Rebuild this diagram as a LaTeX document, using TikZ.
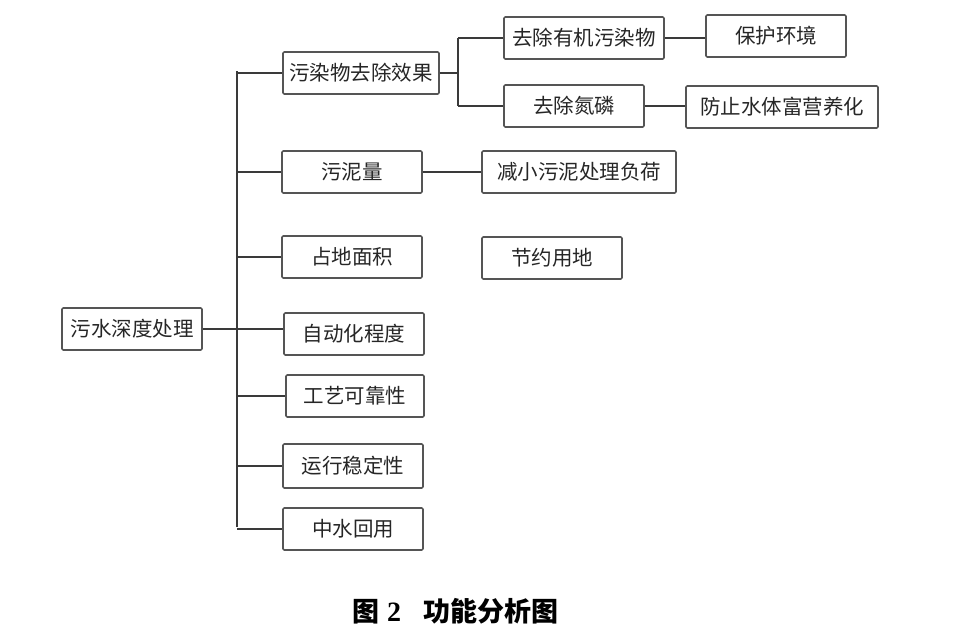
\documentclass[tikz,border=0pt]{standalone}
\usepackage{fontspec}
\newfontfamily\cjk{Noto Sans CJK SC}
\newfontfamily\capserif{Liberation Serif}
\begin{document}
\begin{tikzpicture}[x=1pt,y=-1pt,
  box/.style={draw=boxgray,line width=1.6pt,rounded corners=1.2pt,fill=white,
    inner sep=0pt,align=center,font=\cjk\fontsize{20.5}{22}\selectfont,text=txt},
  link/.style={draw=linegray,line width=1.8pt}]
\definecolor{boxgray}{HTML}{555555}
\definecolor{linegray}{HTML}{3A3A3A}
\definecolor{txt}{HTML}{262626}
\useasboundingbox (0,0) rectangle (961,638);
% nodes
\node[box,minimum width=140pt,minimum height=42pt] (root) at (132,329) {污水深度处理};
\node[box,minimum width=156pt,minimum height=42pt] (p1) at (361,73) {污染物去除效果};
\node[box,minimum width=140pt,minimum height=42pt] (p2) at (352,172) {污泥量};
\node[box,minimum width=140pt,minimum height=42pt] (p3) at (352,257) {占地面积};
\node[box,minimum width=140pt,minimum height=42pt] (p4) at (354,334) {自动化程度};
\node[box,minimum width=138pt,minimum height=42pt] (p5) at (355,396) {工艺可靠性};
\node[box,minimum width=140pt,minimum height=44pt] (p6) at (353,466) {运行稳定性};
\node[box,minimum width=140pt,minimum height=42pt] (p7) at (353,529) {中水回用};
\node[box,minimum width=160pt,minimum height=42pt] (q1) at (584,38) {去除有机污染物};
\node[box,minimum width=140pt,minimum height=42pt] (q2) at (574,106) {去除氮磷};
\node[box,minimum width=140pt,minimum height=42pt] (r1) at (776,36) {保护环境};
\node[box,minimum width=192pt,minimum height=42pt] (r2) at (782,107) {防止水体富营养化};
\node[box,minimum width=194pt,minimum height=42pt] (s1) at (579,172) {减小污泥处理负荷};
\node[box,minimum width=140pt,minimum height=42pt] (s2) at (552,258) {节约用地};
% caption
\node[inner sep=0pt,text=black] (cap) at (455,611)
  {{\cjk\bfseries\fontsize{27}{30}\selectfont 图}\hspace{8pt}{\capserif\bfseries\fontsize{28}{30}\selectfont 2}\hspace{22pt}{\cjk\bfseries\fontsize{27}{30}\selectfont 功能分析图}};
% trunk
\coordinate (tt) at (237,71);
\coordinate (tb) at (237,527);
\coordinate (bx) at (458,73);
\draw[link] (tt) -- (tb);
\draw[link] (root.east) -- (root.east -| p4.west);
\foreach \n in {p1,p2,p3,p5,p6,p7}{
  \draw[link] (tt |- \n.west) -- (\n.west);
}
% second level branch
\draw[link] (p1.east) -- (bx);
\draw[link] (bx |- q1.west) -- (bx |- q2.west);
\draw[link] (bx |- q1.west) -- (q1.west);
\draw[link] (bx |- q2.west) -- (q2.west);
\draw[link] (q1.east) -- (q1.east -| r1.west);
\draw[link] (q2.east) -- (q2.east -| r2.west);
\draw[link] (p2.east) -- (s1.west);
\end{tikzpicture}
\end{document}
